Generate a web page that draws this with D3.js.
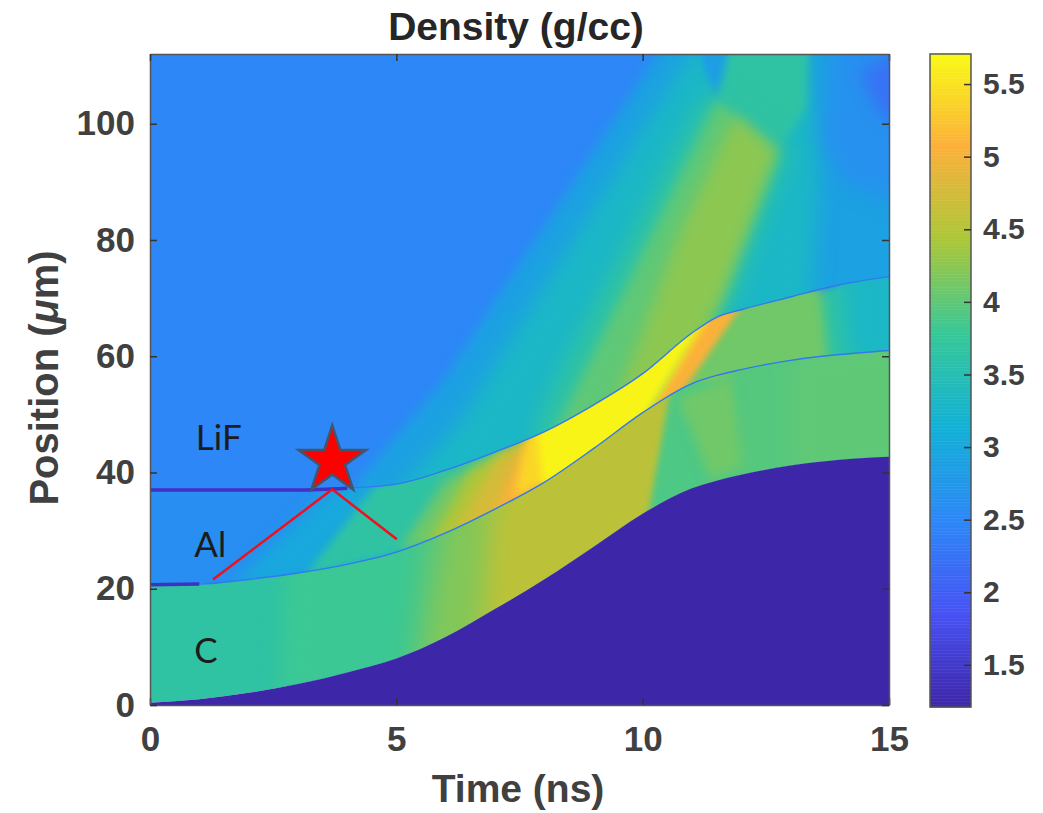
<!DOCTYPE html>
<html>
<head>
<meta charset="utf-8">
<script src="https://cdn.jsdelivr.net/npm/d3@7"></script>
<style>
    body { margin: 0; background: #fff; }
    text { font-family: "Liberation Sans", sans-serif; font-weight: bold; fill: #404040; }
    .label { font-family: Lato, sans-serif; font-weight: normal; fill: #1c1c1c; }
</style>
</head>
<body>
<svg width="1043" height="813"></svg>
<script>
"use strict";

// colour map
const barDensity = [1.21, 1.85, 2.49, 3.14, 3.78, 4.42, 5.07, 5.707];
const barColour = ["#3e26a8", "#4752f4", "#2d87f7", "#12b1d6", "#37c897", "#abc739", "#fcb03a", "#f9fb15"];
const barTicks = [1.5, 2, 2.5, 3, 3.5, 4, 4.5, 5, 5.5];

const xTicks = [0, 5, 10, 15];
const yTicks = [0, 20, 40, 60, 80, 100];

// interfaces between the layers, position in um
const times = [0, 1, 2, 3, 4, 5, 6, 7, 8, 9, 10, 11, 11.5, 12, 13, 14, 15];
const cBottom = [0.4, 1, 2.1, 3.6, 5.6, 8, 11.7, 16.5, 21.6, 27.2, 32.9, 37.3, 38.6, 39.6, 41.2, 42.2, 42.7];
const cAlEdge = [20.7, 20.8, 21.6, 22.7, 24.2, 26.3, 29.6, 33.7, 38.3, 44.1, 50.3, 55.3, 56.7, 57.7, 59.3, 60.3, 61];
const alLifEdge = [37, 37, 37, 37, 37.3, 38, 40.4, 43.5, 47, 51.6, 57, 64, 66.7, 68, 70.2, 72.3, 73.7];

// density of each layer before the waves reach it
const voidDensity = 1.21;
const lifDensity = 2.49;
const alDensity = 2.6;
const cDensity = 3.65;

// wave regions as [time, position] outlines with their density
const lifWaveDensity = [2.9, 3.3, 2.85, 3.65, 3.65, 4, 4.25, 2.65, 2.25];
const lifWaves = [
    [[4, 30], [4.2, 38.3], [5.95, 55.8], [11.3, 125], [16, 125], [16, 60], [11, 55], [7.7, 38], [5, 30]],
    [[4.9, 35.2], [6.3, 49], [7.3, 62.7], [10.96, 111.9], [11.37, 117.7], [13.19, 117.7], [13.6, 95.4], [13.5, 79.9], [13.4, 66.2], [11.16, 52.4], [7.1, 35.2]],
    [[10.9, 118], [12, 118], [11.51, 103.5]],
    [[11.9, 120], [13.4, 120], [13.33, 102.7], [12.79, 95.9], [11.57, 104]],
    [[7.71, 45.5], [8.22, 55.8], [11.06, 102.2], [11.57, 106.5], [13, 95.4], [11.87, 69.6], [11.16, 62.7], [9.13, 45.5]],
    [[7.92, 42], [8.73, 55.8], [11.51, 104], [12.75, 95.4], [11.57, 69.6], [11.16, 62], [9.54, 50]],
    [[11.87, 101.4], [12.69, 95.4], [11.57, 69.6], [11, 60], [9.34, 50], [10.76, 81.6]],
    [[13.9, 116], [15.4, 116], [15.4, 85.6], [14.07, 90.2], [13.66, 97]],
    [[14.4, 109], [15.3, 113], [15.3, 98.8], [14.77, 102.2]]
];

const alWaveDensity = [3, 3.65, 4.1, 3.3, 4.45, 4.75, 5.05, 5.4, 5.05, 5.65];
const alWaves = [
    [[1.52, 19.8], [3.75, 37.8], [5.48, 38.7], [5.48, 24.9]],
    [[3.15, 22.3], [4.57, 37.8], [7.1, 45.5], [15.4, 78], [15.4, 57.6], [7.1, 30]],
    [[5.07, 26.6], [5.99, 38.7], [8.12, 47.3], [11.16, 67.9], [13.6, 73], [13.8, 56.7], [10.55, 50.7], [7.1, 30]],
    [[14, 78], [15.4, 78], [15.4, 59], [14.2, 59]],
    [[5.58, 26.6], [6.5, 40.4], [8.32, 49], [9.13, 49], [7.1, 30]],
    [[6.19, 30], [7.1, 43], [7.92, 45.5], [8.32, 40.4], [6.7, 30]],
    [[6.9, 31.8], [7.61, 44.7], [8.32, 49], [8.32, 40.4], [7.2, 31.8]],
    [[7.4, 36], [7.7, 48], [9.3, 58], [9.3, 43]],
    [[9.95, 47.3], [11.16, 66.2], [12.08, 69.6], [10.55, 50.7]],
    [[8.02, 34], [7.8, 52], [9.34, 62], [11.3, 70], [11.3, 66.5], [10.1, 49.8], [9.13, 40]]
];

const cWaveDensity = [3.8, 3.95, 4.2, 4, 4.55, 3.9, 4.1];
const cWaves = [
    [[2.6, -3], [2.75, 26], [10, 70], [15.5, 70], [15.5, -3]],
    [[5.1, -3], [5.5, 30], [10, 70], [15.5, 70], [15.5, -3]],
    [[5.5, 5], [6, 32], [8, 50], [9, 35], [7.5, 5]],
    [[13, 60], [15.5, 65], [15.5, 40], [13, 38]],
    [[6.6, 0], [6.9, 33], [8.3, 56], [11.5, 62], [11.5, 15], [9, 5]],
    [[9.95, 25], [10.6, 56], [12, 56], [12, 25]],
    [[10.7, 52.9], [11.83, 56.4], [12.04, 40.9], [11.37, 38.7], [11.02, 46.7]]
];

// annotations
const layerNames = ["LiF", "Al", "C"];
const layerNameTime = [0.93, 0.9, 0.9];
const layerNamePos = [43.9, 25.5, 7.3];
const starTime = 3.7;
const starPos = 42;
const redTime = [1.28, 3.7, 5.01];
const redPos = [21.6, 37.1, 28.5];

const svg = d3.select("svg"),
    defs = svg.append("defs"),
    x = d3.scaleLinear().domain([0, 15]).range([150, 889]),
    y = d3.scaleLinear().domain([0, 112]).range([705, 54]),
    barY = d3.scaleLinear().domain([1.21, 5.707]).range([707, 54]),
    colour = d3.scaleLinear().domain(barDensity).range(barColour).clamp(true);

// soft wave fronts: one blur filter for each width
[3, 4, 5, 6, 8, 10, 12].forEach(s => {
    defs.append("filter")
        .attr("id", "blur" + s)
        .attr("filterUnits", "userSpaceOnUse")
        .attr("x", 0).attr("y", -100).attr("width", 1100).attr("height", 1000)
        .attr("color-interpolation-filters", "sRGB")
        .append("feGaussianBlur")
        .attr("stdDeviation", s);
});

const series = (a, b) => times.map((t, i) => ({t: t, lo: a[i], hi: b[i]}));
const plotTop = times.map(() => 112);
const plotBottom = times.map(() => 0);
const band = d3.area()
    .x(d => x(d.t))
    .y0(d => y(d.lo))
    .y1(d => y(d.hi))
    .curve(d3.curveMonotoneX);
const outline = d3.line().x(d => x(d[0])).y(d => y(d[1]));

defs.append("clipPath").attr("id", "lifClip").append("path").attr("d", band(series(alLifEdge, plotTop)));
defs.append("clipPath").attr("id", "alClip").append("path").attr("d", band(series(cAlEdge, alLifEdge)));
defs.append("clipPath").attr("id", "cClip").append("path").attr("d", band(series(cBottom, cAlEdge)));

function drawLayer(clip, base, waves, density, softness) {
    const g = svg.append("g").attr("clip-path", "url(#" + clip + ")");
    g.append("rect")
        .attr("x", x(0)).attr("y", y(112))
        .attr("width", x(15) - x(0)).attr("height", y(0) - y(112))
        .attr("fill", colour(base));
    g.selectAll("path").data(waves).enter().append("path")
        .attr("d", d => outline(d) + "Z")
        .attr("fill", (d, i) => colour(density[i]))
        .attr("filter", (d, i) => "url(#blur" + softness[i] + ")");
}

drawLayer("lifClip", lifDensity, lifWaves, lifWaveDensity, [6, 10, 3, 5, 10, 6, 8, 10, 8]);
drawLayer("alClip", alDensity, alWaves, alWaveDensity, [8, 4, 6, 10, 6, 6, 6, 5, 3, 4]);
drawLayer("cClip", cDensity, cWaves, cWaveDensity, [10, 12, 12, 10, 12, 3, 6]);

svg.append("path")
    .attr("d", band(series(plotBottom, cBottom)))
    .attr("fill", colour(voidDensity));

// interface lines, thin everywhere and heavy before the shock arrives
const edgeLine = d3.line()
    .x(d => x(d[0]))
    .y(d => y(d[1]))
    .curve(d3.curveMonotoneX);
[cAlEdge, alLifEdge].forEach((edge, k) => {
    const pts = times.map((t, i) => [t, edge[i]]);
    svg.append("path").attr("d", edgeLine(pts))
        .attr("fill", "none").attr("stroke", "#3079f0").attr("stroke-width", 1.4);
    svg.append("path").attr("d", edgeLine(pts.filter(p => p[0] <= (k ? 4 : 1))))
        .attr("fill", "none").attr("stroke", "#4030c4").attr("stroke-width", 3.5);
});

// axes
function frameAxis(axis, tx, ty) {
    const g = svg.append("g")
        .attr("transform", "translate(" + tx + "," + ty + ")")
        .call(axis);
    g.select(".domain").attr("stroke", "#555").attr("stroke-width", 1.5);
    g.selectAll(".tick line").attr("stroke", "#333").attr("stroke-width", 1.5);
    return g;
}

frameAxis(d3.axisBottom(x).tickValues(xTicks).tickSizeOuter(0).tickSizeInner(-7).tickPadding(21), 0, 705)
    .selectAll("text").style("font-size", "35px").attr("fill", null);
frameAxis(d3.axisLeft(y).tickValues(yTicks).tickSizeOuter(0).tickSizeInner(-7).tickPadding(15), 150, 0)
    .selectAll("text").style("font-size", "35px").attr("fill", null);
frameAxis(d3.axisTop(x).tickValues(xTicks).tickSizeOuter(0).tickSizeInner(-7).tickFormat(""), 0, 54);
frameAxis(d3.axisRight(y).tickValues(yTicks).tickSizeOuter(0).tickSizeInner(-7).tickFormat(""), 889, 0);

// annotations
svg.selectAll(".label").data(layerNames).enter().append("text")
    .attr("class", "label")
    .attr("x", (d, i) => x(layerNameTime[i]))
    .attr("y", (d, i) => y(layerNamePos[i]))
    .style("font-size", "35px")
    .text(d => d);

svg.append("path")
    .attr("d", d3.line()(redTime.map((t, i) => [x(t), y(redPos[i])])))
    .attr("fill", "none")
    .attr("stroke", "#f0101c")
    .attr("stroke-width", 2.5);

svg.append("path")
    .attr("d", d3.symbol(d3.symbolStar, 1415)())
    .attr("transform", "translate(" + x(starTime) + "," + y(starPos) + ")")
    .attr("fill", "#ff0000")
    .attr("stroke", "#44546a")
    .attr("stroke-width", 2.5);

// colour bar
const barSteps = d3.range(1.21, 5.707, 0.01);
svg.selectAll(".bar").data(barSteps).enter().append("rect")
    .attr("class", "bar")
    .attr("x", 930)
    .attr("width", 41)
    .attr("y", d => barY(d + 0.01))
    .attr("height", d => barY(d) - barY(d + 0.01) + 0.5)
    .attr("fill", d => colour(d));
svg.append("rect")
    .attr("x", 930).attr("y", 54).attr("width", 41).attr("height", 653)
    .attr("fill", "none").attr("stroke", "#555").attr("stroke-width", 1.5);
const barAxis = frameAxis(d3.axisRight(barY).tickValues(barTicks).tickFormat(d => d).tickSizeOuter(0).tickSizeInner(-7).tickPadding(12), 971, 0);
barAxis.select(".domain").remove();
barAxis.selectAll("text").style("font-size", "30px").attr("fill", null);

// titles
svg.append("text")
    .attr("x", 516).attr("y", 40)
    .attr("text-anchor", "middle")
    .style("font-size", "39px")
    .style("fill", "#262626")
    .text("Density (g/cc)");
svg.append("text")
    .attr("x", 518).attr("y", 802)
    .attr("text-anchor", "middle")
    .style("font-size", "39px")
    .text("Time (ns)");
const yLabel = svg.append("text")
    .attr("transform", "translate(58,378) rotate(-90)")
    .attr("text-anchor", "middle")
    .style("font-size", "40px");
yLabel.append("tspan").text("Position (");
yLabel.append("tspan").style("font-style", "italic").text("\u03bc");
yLabel.append("tspan").text("m)");
</script>
</body>
</html>
